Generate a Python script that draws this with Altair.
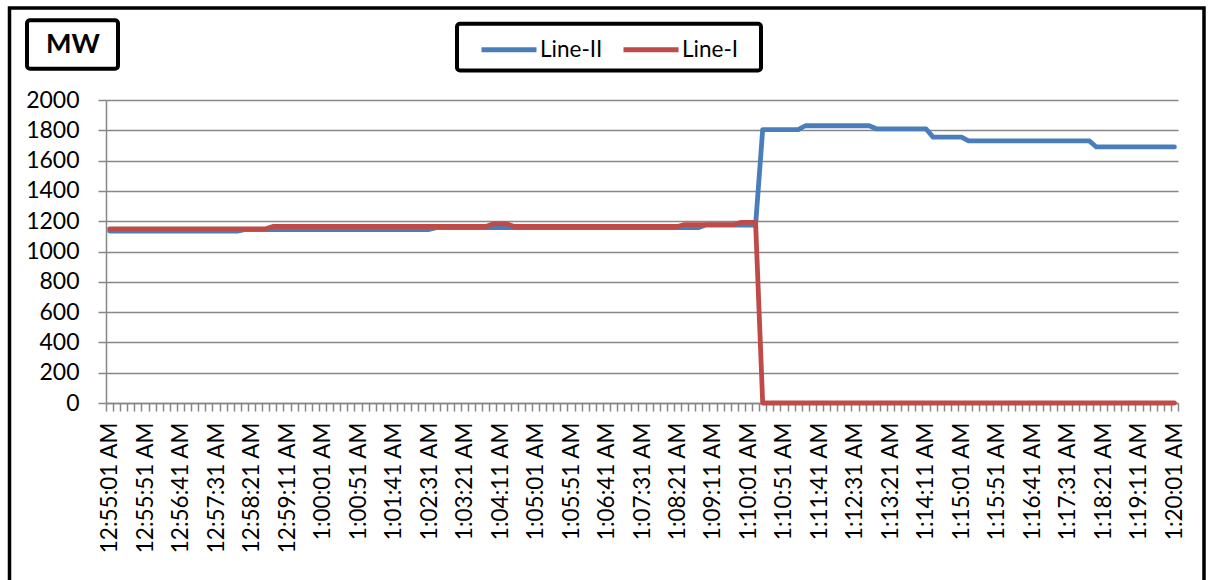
import json

import altair as alt
import pandas as pd

FONT = "Lato"
BLUE = "#4A7EBB"
RED = "#BE4B48"
GRID = "#878787"

# Sample clock: one reading every 10 s, 12:55:01 AM .. 1:20:01 AM
START_SEC = 55 * 60 + 1
N_SAMPLES = 151


def clock_label(sec):
    h, rem = divmod(sec, 3600)
    m, s = divmod(rem, 60)
    return f"{h % 12 or 12}:{m:02d}:{s:02d} AM"


times = [clock_label(START_SEC + 10 * i) for i in range(N_SAMPLES)]
label_times = times[::5]

# Power flow (MW) on each line, one value per sample
line_ii = [
    1135, 1135, 1135, 1135, 1135, 1135, 1135, 1135, 1135, 1135,
    1135, 1135, 1135, 1135, 1135, 1135, 1135, 1135, 1135, 1145,
    1145, 1145, 1145, 1145, 1145, 1145, 1145, 1145, 1145, 1145,
    1145, 1145, 1145, 1145, 1145, 1145, 1145, 1145, 1145, 1145,
    1145, 1145, 1145, 1145, 1145, 1145, 1158, 1158, 1158, 1158,
    1158, 1158, 1158, 1158, 1158, 1158, 1158, 1158, 1158, 1158,
    1158, 1158, 1158, 1158, 1158, 1158, 1158, 1158, 1158, 1158,
    1158, 1158, 1158, 1158, 1158, 1158, 1158, 1158, 1158, 1158,
    1158, 1158, 1158, 1158, 1175, 1175, 1175, 1175, 1175, 1175,
    1175, 1175, 1805, 1805, 1805, 1805, 1805, 1805, 1830, 1830,
    1830, 1830, 1830, 1830, 1830, 1830, 1830, 1830, 1810, 1810,
    1810, 1810, 1810, 1810, 1810, 1810, 1755, 1755, 1755, 1755,
    1755, 1730, 1730, 1730, 1730, 1730, 1730, 1730, 1730, 1730,
    1730, 1730, 1730, 1730, 1730, 1730, 1730, 1730, 1730, 1690,
    1690, 1690, 1690, 1690, 1690, 1690, 1690, 1690, 1690, 1690,
    1690,
]

line_i = [
    1150, 1150, 1150, 1150, 1150, 1150, 1150, 1150, 1150, 1150,
    1150, 1150, 1150, 1150, 1150, 1150, 1150, 1150, 1150, 1150,
    1150, 1150, 1150, 1165, 1165, 1165, 1165, 1165, 1165, 1165,
    1165, 1165, 1165, 1165, 1165, 1165, 1165, 1165, 1165, 1165,
    1165, 1165, 1165, 1165, 1165, 1165, 1165, 1165, 1165, 1165,
    1165, 1165, 1165, 1165, 1182, 1182, 1182, 1165, 1165, 1165,
    1165, 1165, 1165, 1165, 1165, 1165, 1165, 1165, 1165, 1165,
    1165, 1165, 1165, 1165, 1165, 1165, 1165, 1165, 1165, 1165,
    1165, 1178, 1178, 1178, 1178, 1178, 1178, 1178, 1178, 1192,
    1192, 1192, 0, 0, 0, 0, 0, 0, 0, 0,
    0, 0, 0, 0, 0, 0, 0, 0, 0, 0,
    0, 0, 0, 0, 0, 0, 0, 0, 0, 0,
    0, 0, 0, 0, 0, 0, 0, 0, 0, 0,
    0, 0, 0, 0, 0, 0, 0, 0, 0, 0,
    0, 0, 0, 0, 0, 0, 0, 0, 0, 0,
    0,
]

series_names = ["Line-II", "Line-I"]
y_ticks = list(range(0, 2001, 200))

df = pd.DataFrame({
    "time": times * 2,
    "series": [series_names[0]] * N_SAMPLES + [series_names[1]] * N_SAMPLES,
    "mw": line_ii + line_i,
})

label_expr = f"indexof({json.dumps(label_times)}, datum.value) >= 0 ? datum.label : ''"

x_enc = alt.X(
    "time:O",
    sort=times,
    bandPosition=0.5,
    scale=alt.Scale(type="band", paddingInner=0, paddingOuter=0),
    axis=alt.Axis(
        title=None,
        grid=False,
        labelAngle=270,
        labelExpr=label_expr,
        labelOverlap=False,
        tickBand="extent",
        tickSize=8,
        tickWidth=1.5,
        tickColor=GRID,
        domainColor=GRID,
        domainWidth=1.5,
        labelFont=FONT,
        labelFontSize=22.5,
        labelColor="black",
        labelPadding=11,
    ),
)

y_enc = alt.Y(
    "mw:Q",
    scale=alt.Scale(domain=[0, 2000], nice=False, zero=True),
    axis=alt.Axis(
        values=y_ticks,
        format="d",
        grid=True,
        gridColor=GRID,
        gridWidth=1.5,
        domainColor=GRID,
        domainWidth=1.5,
        tickColor=GRID,
        tickWidth=1.5,
        tickSize=8,
        labelFont=FONT,
        labelFontSize=23,
        labelColor="black",
        labelPadding=19,
        title="MW",
        titleAngle=0,
        titleX=-33.5,
        titleY=-55.5,
        titleAlign="center",
        titleBaseline="middle",
        titleFont=FONT,
        titleFontSize=27,
        titleFontWeight="bold",
        titleColor="black",
    ),
)

color_enc = alt.Color(
    "series:N",
    scale=alt.Scale(domain=series_names, range=[BLUE, RED]),
    legend=alt.Legend(
        title=None,
        orient="none",
        legendX=373,
        legendY=-80.5,
        direction="horizontal",
        symbolType="stroke",
        symbolSize=3025,
        symbolStrokeWidth=5,
        labelFont=FONT,
        labelFontSize=22.5,
        labelColor="black",
        labelOffset=1,
        columnPadding=10,
        padding=0,
    ),
)

lines = alt.Chart(df).mark_line(
    strokeWidth=4.8, strokeCap="round", strokeJoin="round"
).encode(x=x_enc, y=y_enc, color=color_enc)

one = pd.DataFrame({"k": [0]})

# Outer chart frame
frame = alt.Chart(one).mark_rect(
    fillOpacity=0, stroke="black", strokeWidth=3.5
).encode(x=alt.value(-96.5), x2=alt.value(1098), y=alt.value(-92), y2=alt.value(485))

# Box around the unit caption
unit_box = alt.Chart(one).mark_rect(
    fillOpacity=0, stroke="black", strokeWidth=4, cornerRadius=3
).encode(x=alt.value(-79), x2=alt.value(12), y=alt.value(-79.7), y2=alt.value(-31.3))

# Box around the legend
legend_box = alt.Chart(one).mark_rect(
    fillOpacity=0, stroke="black", strokeWidth=4, cornerRadius=3
).encode(x=alt.value(351), x2=alt.value(655), y=alt.value(-76.2), y2=alt.value(-29.5))

chart = alt.layer(frame, unit_box, legend_box, lines).properties(
    width=1072,
    height=303,
    autosize=alt.AutoSizeParams(type="none"),
    padding={"left": 106, "top": 100, "right": 30, "bottom": 177},
    background="white",
).configure_view(strokeWidth=0)

chart.save("out.html", embed_options={"renderer": "svg", "actions": False})
